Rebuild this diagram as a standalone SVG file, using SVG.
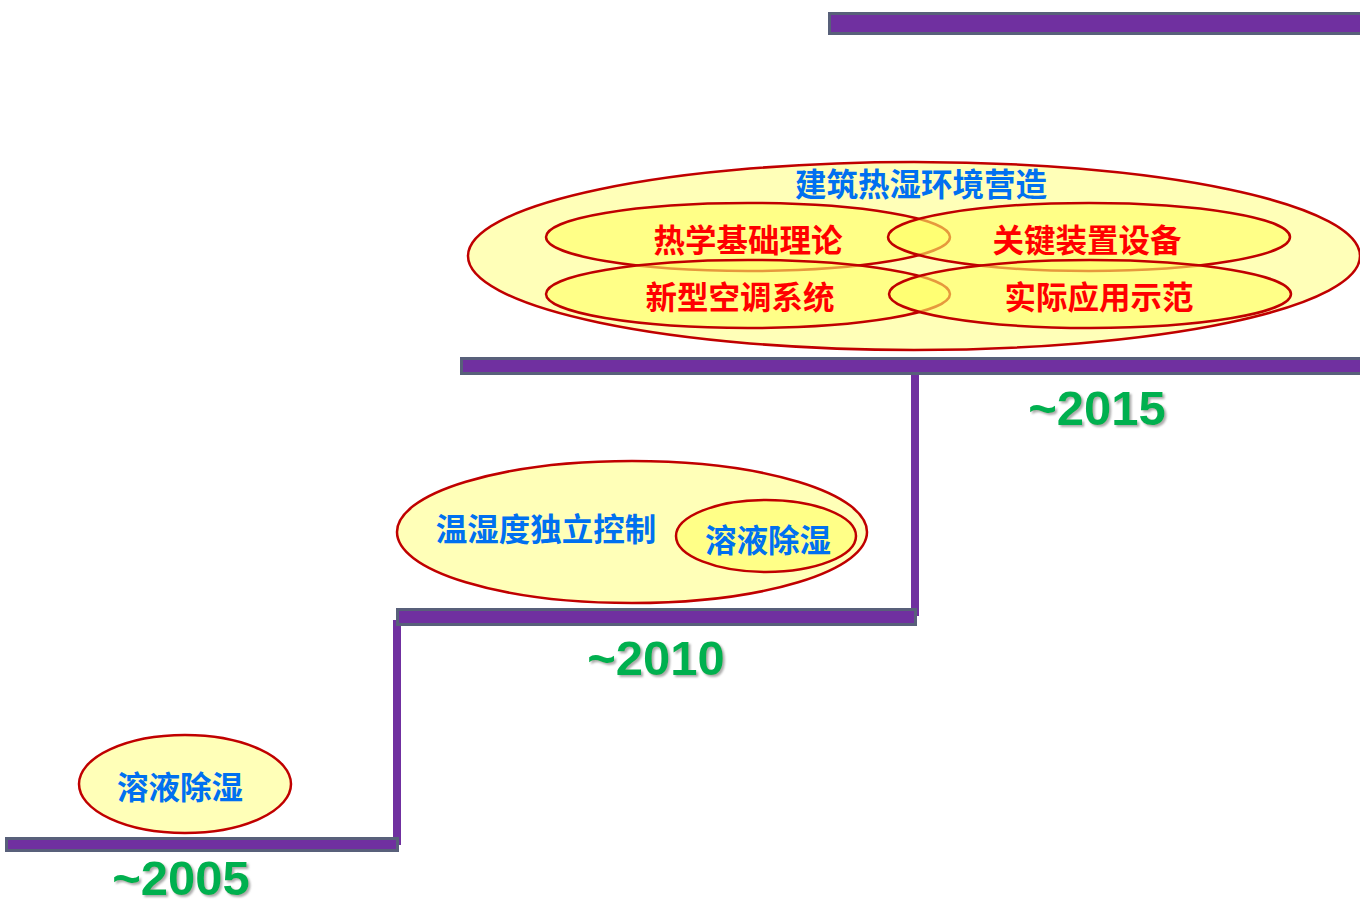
<svg xmlns="http://www.w3.org/2000/svg" width="1360" height="901" viewBox="0 0 1360 901">
<defs>
<filter id="sh" x="-10%" y="-10%" width="130%" height="140%">
<feDropShadow dx="2" dy="2" stdDeviation="1.2" flood-color="#888" flood-opacity="0.7"/>
</filter>
</defs>
<style>
.bar{fill:#7030A0;stroke:#58607A;stroke-width:3}
.vert{fill:#7030A0}
.outer{fill:#FFFFB8;stroke:#C00000;stroke-width:2.5}
.inner{fill:#FFFF66;fill-opacity:0.6;stroke:#C00000;stroke-width:2.5}
.blue{font-family:"Noto Sans CJK SC","Noto Sans CJK JP",sans-serif;font-weight:bold;font-size:31.5px;fill:#0070F0;text-anchor:middle}
.red{font-family:"Noto Sans CJK SC","Noto Sans CJK JP",sans-serif;font-weight:bold;font-size:31.5px;fill:#FF0000;text-anchor:middle}
.year{font-family:"Liberation Sans",Arial,sans-serif;font-weight:bold;font-size:49px;fill:#00B050;text-anchor:middle;filter:url(#sh)}
</style>
<rect width="1360" height="901" fill="#FFFFFF"/>
<g id="connectors">
<rect class="vert" x="911" y="370" width="8" height="246"/>
<rect class="vert" x="393" y="620" width="8" height="225"/>
<rect class="bar" x="829.500" y="13.500" width="535" height="20"/>
<rect class="bar" x="461.500" y="358.500" width="903" height="15"/>
<rect class="bar" x="397.500" y="609.500" width="518" height="15"/>
<rect class="bar" x="6.500" y="838.500" width="391" height="12"/>
</g>
<g id="node-2015">
<ellipse class="outer" cx="914" cy="256" rx="446" ry="94"/>
<text class="blue" x="921" y="196">建筑热湿环境营造</text>
<g id="node-thermal-theory">
<ellipse class="inner" cx="748" cy="237" rx="202" ry="34"/>
</g>
<g id="node-key-equipment">
<ellipse class="inner" cx="1089" cy="237" rx="201" ry="34"/>
</g>
<g id="node-new-ac">
<ellipse class="inner" cx="748" cy="294" rx="202" ry="34"/>
</g>
<g id="node-demo">
<ellipse class="inner" cx="1090" cy="294" rx="201" ry="34"/>
</g>
<text class="red" x="748" y="252">热学基础理论</text>
<text class="red" x="1087" y="252">关键装置设备</text>
<text class="red" x="740" y="309">新型空调系统</text>
<text class="red" x="1099" y="309">实际应用示范</text>
<text class="year" x="1097" y="425">~2015</text>
</g>
<g id="node-2010">
<ellipse class="outer" cx="632" cy="532" rx="235" ry="71"/>
<text class="blue" x="546" y="541">温湿度独立控制</text>
<g id="node-2010-solution">
<ellipse class="inner" cx="766" cy="536" rx="90" ry="36"/>
<text class="blue" x="768" y="552">溶液除湿</text>
</g>
<text class="year" x="656" y="675">~2010</text>
</g>
<g id="node-2005">
<ellipse class="outer" cx="185" cy="784" rx="106" ry="49"/>
<text class="blue" x="180" y="799">溶液除湿</text>
<text class="year" x="181" y="895">~2005</text>
</g>
</svg>
